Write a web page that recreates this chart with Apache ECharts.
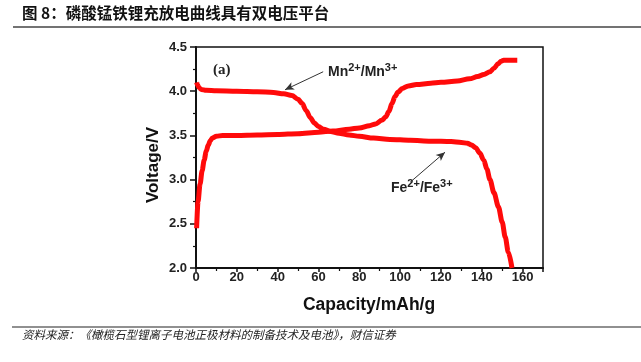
<!DOCTYPE html>
<html>
<head>
<meta charset="utf-8">
<script src="https://cdn.jsdelivr.net/npm/echarts@6/dist/echarts.min.js"></script>
<style>
html,body{margin:0;padding:0;background:#fff;}
#chart{width:641px;height:362px;}
</style>
</head>
<body>
<div id="chart"></div>
<script>
// ---- data ----
var chargeCap = [0.3, 1, 2, 3, 4, 5, 6, 7, 8, 10, 13, 20, 30, 40, 50, 60, 67, 75, 80, 85, 88, 91, 93, 94.5, 96, 97.5, 99, 101, 104, 108, 115, 120, 128, 134, 138, 141, 144, 146, 148, 149.5, 150.7, 153, 155, 157.4];
var chargeV   = [2.45, 2.75, 2.95, 3.10, 3.22, 3.32, 3.39, 3.44, 3.47, 3.49, 3.50, 3.50, 3.505, 3.51, 3.52, 3.535, 3.55, 3.57, 3.585, 3.61, 3.63, 3.67, 3.71, 3.77, 3.86, 3.94, 3.99, 4.03, 4.06, 4.075, 4.09, 4.10, 4.115, 4.14, 4.165, 4.19, 4.22, 4.26, 4.31, 4.34, 4.35, 4.35, 4.35, 4.35];
var dischargeCap = [0.3, 0.8, 1.5, 2.5, 5, 10, 20, 30, 38, 43, 47, 50, 52, 54, 56, 58, 60, 62.5, 66, 70, 75, 80, 87, 95, 105, 115, 125, 130, 133, 135, 137, 139, 141, 142.5, 144, 146, 148.2, 150, 151.5, 153, 154.8];
var dischargeV   = [4.10, 4.07, 4.04, 4.02, 4.01, 4.005, 4.0, 3.995, 3.985, 3.97, 3.95, 3.91, 3.86, 3.78, 3.70, 3.64, 3.60, 3.57, 3.545, 3.525, 3.505, 3.49, 3.47, 3.455, 3.445, 3.435, 3.43, 3.42, 3.41, 3.39, 3.36, 3.30, 3.22, 3.12, 3.00, 2.85, 2.69, 2.52, 2.35, 2.18, 2.00];
var xTicks = [0, 20, 40, 60, 80, 100, 120, 140, 160];
var yTicks = [2.0, 2.5, 3.0, 3.5, 4.0, 4.5];
// annotation arrows (data coordinates): [from, to]
var mnArrow = [[62.3, 4.22], [43.6, 4.016]];
var feArrow = [[104.9, 2.97], [122, 3.31]];

var titleText = '图 8：磷酸锰铁锂充放电曲线具有双电压平台';
var sourceText = '资料来源：《橄榄石型锂离子电池正极材料的制备技术及电池》，财信证券';

function pairs(xs, ys){ return xs.map(function(x,i){ return [x, ys[i]]; }); }

var chart = echarts.init(document.getElementById('chart'), null, {renderer:'canvas'});
var lblFont = 'Liberation Sans, Arial, sans-serif';
var red = '#ff0a0a';

function arrowLine(a){
  return [{coord: a[0], symbol: 'none'}, {coord: a[1], symbol: 'arrow', symbolSize: [6, 9]}];
}
var ionRich = {
  b: {fontFamily: lblFont, fontWeight: 'bold', fontSize: 14, fill: '#222', verticalAlign: 'bottom', lineHeight: 17},
  s: {fontFamily: lblFont, fontWeight: 'bold', fontSize: 11, fill: '#222', verticalAlign: 'top', lineHeight: 17}
};

var option = {
  backgroundColor: '#fff',
  animation: false,
  grid: {left: 196, right: 98, top: 47, bottom: 94, show: true, borderColor: '#111', borderWidth: 1.5, backgroundColor: 'transparent'},
  xAxis: {
    type: 'value', min: 0, max: 170, interval: 20,
    axisLine: {show: true, onZero: false, lineStyle: {color: '#111', width: 2}},
    axisTick: {show: true, inside: false, length: 4, lineStyle: {color: '#111', width: 1.5}},
    minorTick: {show: true, splitNumber: 2, length: 3, lineStyle: {color: '#111', width: 1.2}},
    splitLine: {show: false},
    axisLabel: {margin: 3, color: '#222', fontFamily: lblFont, fontWeight: 'bold', fontSize: 13,
      showMaxLabel: false,
      formatter: function(v){ return xTicks.indexOf(v) >= 0 ? String(v) : ''; }}
  },
  yAxis: {
    type: 'value', min: 2.0, max: 4.5, interval: 0.5,
    axisLine: {show: true, onZero: false, lineStyle: {color: '#111', width: 2}},
    axisTick: {show: true, inside: false, length: 6, lineStyle: {color: '#111', width: 1.5}},
    minorTick: {show: true, splitNumber: 2, length: 3, lineStyle: {color: '#111', width: 1.2}},
    splitLine: {show: false},
    axisLabel: {margin: 9, color: '#222', fontFamily: lblFont, fontWeight: 'bold', fontSize: 13,
      formatter: function(v){ return v.toFixed(1); }}
  },
  series: [
    {
      name: 'charge', type: 'line', data: pairs(chargeCap, chargeV),
      showSymbol: false, smooth: 0.3, smoothMonotone: 'x',
      lineStyle: {color: red, width: 5}, z: 3,
      markLine: {
        silent: true, symbol: ['none', 'arrow'],
        lineStyle: {color: '#333', width: 1, type: 'solid'},
        label: {show: false},
        data: [arrowLine(mnArrow), arrowLine(feArrow)]
      }
    },
    {
      name: 'discharge', type: 'line', data: pairs(dischargeCap, dischargeV),
      showSymbol: false, smooth: 0.3, smoothMonotone: 'x',
      lineStyle: {color: red, width: 5}, z: 3
    }
  ],
  graphic: [
    {type: 'text', left: 22, top: 5, style: {text: titleText, fontFamily: 'Noto Sans CJK SC', fontWeight: 'bold', fontSize: 15.5, fill: '#111'}},
    {type: 'line', shape: {x1: 13, y1: 27, x2: 641, y2: 27}, style: {stroke: '#444', lineWidth: 1.6}},
    {type: 'line', shape: {x1: 12, y1: 327, x2: 641, y2: 327}, style: {stroke: '#222', lineWidth: 1.2}},
    {type: 'text', left: 22, top: 329, style: {text: sourceText, fontFamily: 'Noto Sans CJK SC', fontStyle: 'italic', fontSize: 11.5, fill: '#222'}},
    {type: 'text', x: 153, y: 165, rotation: Math.PI/2, style: {text: 'Voltage/V', fontFamily: lblFont, fontWeight: 'bold', fontSize: 17, fill: '#111', align: 'center', verticalAlign: 'middle'}},
    {type: 'text', x: 369, y: 305, style: {text: 'Capacity/mAh/g', fontFamily: lblFont, fontWeight: 'bold', fontSize: 17.5, fill: '#111', align: 'center', verticalAlign: 'middle'}},
    {type: 'text', x: 213, y: 70, style: {text: '(a)', fontFamily: 'Liberation Serif, DejaVu Serif, serif', fontWeight: 'bold', fontSize: 15, fill: '#222', verticalAlign: 'middle'}},
    {type: 'text', x: 328, y: 71, style: {text: '{b|Mn}{s|2+}{b|/Mn}{s|3+}', verticalAlign: 'middle', rich: ionRich}},
    {type: 'text', x: 391, y: 187, style: {text: '{b|Fe}{s|2+}{b|/Fe}{s|3+}', verticalAlign: 'middle', rich: ionRich}}
  ]
};
chart.setOption(option);
</script>
</body>
</html>
